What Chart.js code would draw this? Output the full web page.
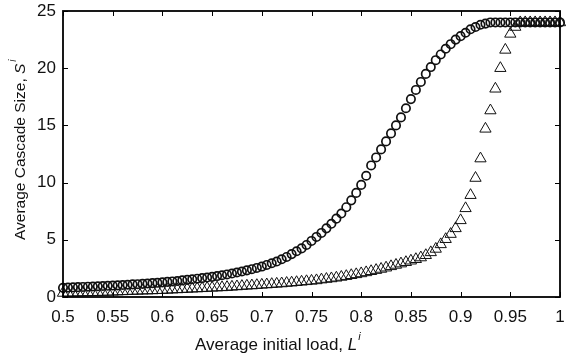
<!DOCTYPE html>
<html>
<head>
<meta charset="utf-8">
<script src="https://cdn.jsdelivr.net/npm/chart.js@4"></script>
<style>
  html, body { margin: 0; padding: 0; background: #fff; }
  canvas { display: block; }
</style>
</head>
<body>
<canvas id="chart" width="568" height="362"></canvas>
<script>
// average initial load L^i (x) and average cascade size S^i (y)
const loads = [
  0.5, 0.505, 0.51, 0.515, 0.52, 0.525, 0.53, 0.535, 0.54, 0.545,
  0.55, 0.555, 0.56, 0.565, 0.57, 0.575, 0.58, 0.585, 0.59, 0.595,
  0.6, 0.605, 0.61, 0.615, 0.62, 0.625, 0.63, 0.635, 0.64, 0.645,
  0.65, 0.655, 0.66, 0.665, 0.67, 0.675, 0.68, 0.685, 0.69, 0.695,
  0.7, 0.705, 0.71, 0.715, 0.72, 0.725, 0.73, 0.735, 0.74, 0.745,
  0.75, 0.755, 0.76, 0.765, 0.77, 0.775, 0.78, 0.785, 0.79, 0.795,
  0.8, 0.805, 0.81, 0.815, 0.82, 0.825, 0.83, 0.835, 0.84, 0.845,
  0.85, 0.855, 0.86, 0.865, 0.87, 0.875, 0.88, 0.885, 0.89, 0.895,
  0.9, 0.905, 0.91, 0.915, 0.92, 0.925, 0.93, 0.935, 0.94, 0.945,
  0.95, 0.955, 0.96, 0.965, 0.97, 0.975, 0.98, 0.985, 0.99, 0.995,
  1
];

const circleSizes = [
  0.80, 0.82, 0.84, 0.86, 0.88, 0.90, 0.92, 0.94, 0.96, 0.98,
  1.00, 1.02, 1.05, 1.07, 1.10, 1.12, 1.15, 1.18, 1.21, 1.24,
  1.28, 1.32, 1.36, 1.40, 1.45, 1.50, 1.55, 1.60, 1.65, 1.70,
  1.76, 1.83, 1.90, 1.97, 2.05, 2.14, 2.23, 2.33, 2.43, 2.54,
  2.66, 2.80, 2.95, 3.10, 3.30, 3.50, 3.75, 4.00, 4.25, 4.55,
  4.90, 5.25, 5.60, 6.00, 6.40, 6.85, 7.30, 7.85, 8.45, 9.10,
  9.80, 10.6, 11.5, 12.2, 12.9, 13.6, 14.3, 15.0, 15.7, 16.5,
  17.3, 18.1, 18.8, 19.5, 20.1, 20.7, 21.2, 21.7, 22.1, 22.5,
  22.8, 23.1, 23.4, 23.6, 23.8, 23.9, 24.0, 24.0, 24.0, 24.0,
  24.0, 24.0, 24.0, 24.0, 24.0, 24.0, 24.0, 24.0, 24.0, 24.0,
  24.0
];

const triangleSizes = [
  0.35, 0.36, 0.37, 0.38, 0.39, 0.40, 0.41, 0.42, 0.43, 0.44,
  0.45, 0.47, 0.49, 0.51, 0.52, 0.53, 0.55, 0.56, 0.57, 0.59,
  0.60, 0.62, 0.64, 0.66, 0.68, 0.70, 0.72, 0.74, 0.76, 0.78,
  0.80, 0.82, 0.84, 0.86, 0.89, 0.92, 0.95, 0.98, 1.00, 1.03,
  1.06, 1.09, 1.12, 1.15, 1.18, 1.22, 1.25, 1.29, 1.33, 1.37,
  1.41, 1.45, 1.52, 1.57, 1.62, 1.68, 1.75, 1.82, 1.90, 1.98,
  2.06, 2.15, 2.25, 2.35, 2.45, 2.56, 2.68, 2.80, 2.92, 3.04,
  3.17, 3.30, 3.45, 3.65, 3.90, 4.20, 4.60, 5.05, 5.50, 6.00,
  6.70, 7.75, 8.90, 10.4, 12.1, 14.7, 16.3, 18.2, 20.0, 21.6,
  23.0, 23.6, 24.0, 24.0, 24.0, 24.0, 24.0, 24.0, 24.0, 24.0,
  24.0
];

const xTitle = 'Average initial load, ';
const yTitle = 'Average Cascade Size, ';
const FONT = '"Liberation Sans", Arial, sans-serif';

const toPoints = ys => loads.map((x, i) => ({ x: x, y: ys[i] }));

// ----------------- FRAME, INWARD TICKS, AXIS TITLES -----------------

const frame = {
  id: 'frame',
  afterDatasetsDraw(chart) {
    const { ctx, chartArea: a, scales: { x, y } } = chart;
    ctx.save();
    ctx.strokeStyle = '#000';
    ctx.lineWidth = 1.8;
    ctx.strokeRect(a.left, a.top, a.right - a.left, a.bottom - a.top);
    ctx.lineWidth = 1;
    ctx.beginPath();
    x.ticks.forEach(t => {
      const px = Math.round(x.getPixelForValue(t.value)) + 0.5;
      ctx.moveTo(px, a.bottom); ctx.lineTo(px, a.bottom - 5);
      ctx.moveTo(px, a.top); ctx.lineTo(px, a.top + 5);
    });
    y.ticks.forEach(t => {
      const py = Math.round(y.getPixelForValue(t.value)) + 0.5;
      ctx.moveTo(a.left, py); ctx.lineTo(a.left + 5, py);
      ctx.moveTo(a.right, py); ctx.lineTo(a.right - 5, py);
    });
    ctx.stroke();
    ctx.restore();
  },
  afterDraw(chart) {
    const { ctx } = chart;
    ctx.save();
    ctx.fillStyle = '#111';
    ctx.textBaseline = 'alphabetic';
    // x title
    ctx.font = '17px ' + FONT;
    let x0 = 195, base = 350;
    ctx.fillText(xTitle, x0, base);
    x0 += ctx.measureText(xTitle).width;
    ctx.font = 'italic 17px ' + FONT;
    ctx.fillText('L', x0, base);
    x0 += ctx.measureText('L').width + 1;
    ctx.font = 'italic 11px ' + FONT;
    ctx.fillText('i', x0, base - 10);
    // y title
    ctx.translate(25, 240);
    ctx.rotate(-Math.PI / 2);
    ctx.font = '15.5px ' + FONT;
    let y0 = 0;
    ctx.fillText(yTitle, y0, 0);
    y0 += ctx.measureText(yTitle).width;
    ctx.font = 'italic 15.5px ' + FONT;
    ctx.fillText('S', y0, 0);
    y0 += ctx.measureText('S').width + 2;
    ctx.font = 'italic 10px ' + FONT;
    ctx.fillText('i', y0, -9);
    ctx.restore();
  }
};

const ctx = document.getElementById('chart').getContext('2d');
const chart = new Chart(ctx, {
  type: 'scatter',
  data: {
    datasets: [{
      label: 'triangles',
      data: toPoints(triangleSizes),
      pointStyle: 'triangle',
      pointRadius: 6.5,
      borderColor: '#111',
      backgroundColor: 'rgba(0,0,0,0)',
      borderWidth: 1,
      clip: false
    }, {
      label: 'circles',
      data: toPoints(circleSizes),
      pointStyle: 'circle',
      pointRadius: 4.2,
      borderColor: '#111',
      backgroundColor: 'rgba(0,0,0,0)',
      borderWidth: 1.7,
      clip: false
    }]
  },
  options: {
    responsive: false,
    animation: false,
    layout: { padding: { left: 0, right: 8, top: 11, bottom: 0 } },
    plugins: { legend: { display: false }, tooltip: { enabled: false } },
    scales: {
      x: {
        type: 'linear',
        min: 0.5,
        max: 1,
        afterFit: s => { s.height = 65; s.paddingLeft = 0; s.paddingRight = 0; },
        grid: { display: false, drawTicks: false },
        border: { display: false },
        ticks: {
          stepSize: 0.05,
          padding: 10,
          maxRotation: 0,
          autoSkip: false,
          color: '#111',
          font: { family: FONT, size: 17 },
          callback: v => String(+v.toFixed(2))
        }
      },
      y: {
        min: 0,
        max: 25,
        afterFit: s => { s.width = 63; s.paddingTop = 0; s.paddingBottom = 0; },
        grid: { display: false, drawTicks: false },
        border: { display: false },
        ticks: {
          stepSize: 5,
          padding: 7,
          color: '#111',
          font: { family: FONT, size: 17 }
        }
      }
    }
  },
  plugins: [frame]
});
</script>
</body>
</html>
